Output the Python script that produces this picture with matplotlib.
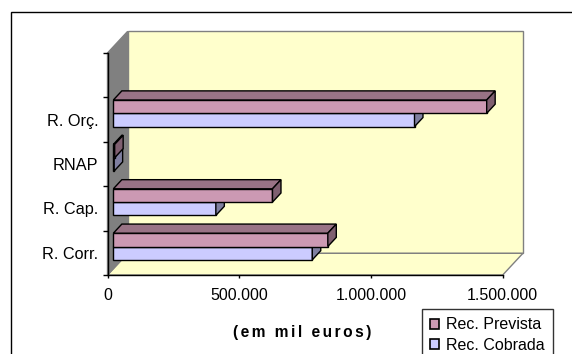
import numpy as np
import matplotlib.pyplot as plt
from matplotlib.patches import Polygon, Rectangle, Patch

plt.rcParams['font.family'] = ['Liberation Sans', 'DejaVu Sans']

categories = ['R. Corr.', 'R. Cap.', 'RNAP', 'R. Orç.']
rec_prevista = [814000, 604000, 5000, 1417000]
rec_cobrada = [755000, 389000, 3000, 1143000]
series_names = ['Rec. Prevista', 'Rec. Cobrada']
xticks = [0, 500000, 1000000, 1500000]
xtick_labels = ['0', '500.000', '1.000.000', '1.500.000']

# colours: front, top, side faces
prev_cols = ('#CC99B3', '#997386', '#7F5F70')
cobr_cols = ('#CCCCFF', '#9999C0', '#7F7FA0')
wall_col = '#808080'
back_col = '#FFFFCC'

W, H, DPI = 572, 354, 100
fig = plt.figure(figsize=(W / DPI, H / DPI), dpi=DPI)

# plot frame in pixels
L_px, R_px, T_px, B_px = 107.5, 502.7, 53.0, 275.0
ax = fig.add_axes([L_px / W, 1 - B_px / H, (R_px - L_px) / W, (B_px - T_px) / H])
xmax, nslots = 1500000, 5
ax.set_xlim(0, xmax)
ax.set_ylim(0, nslots)

# depth of the 3d box, in pixels (right, up)
DX, DY = 20.2, 21.7
ux = xmax / (R_px - L_px)
uy = nslots / (B_px - T_px)


def pt(x, y, f):
    return (x + f * DX * ux, y + f * DY * uy)


def face(verts, fc, ec, lw=1.0, z=1):
    ax.add_patch(Polygon(verts, closed=True, facecolor=fc, edgecolor=ec,
                         lw=lw, zorder=z, clip_on=False))


# walls and floor
face([pt(0, 0, 1), pt(xmax, 0, 1), pt(xmax, nslots, 1), pt(0, nslots, 1)],
     back_col, wall_col, z=0.5)
face([pt(0, 0, 0), pt(xmax, 0, 0), pt(xmax, 0, 1), pt(0, 0, 1)],
     back_col, wall_col, z=0.6)
face([pt(0, 0, 0), pt(0, nslots, 0), pt(0, nslots, 1), pt(0, 0, 1)],
     wall_col, wall_col, z=0.7)

# 3d bars
f0, f1 = 0.29, 0.71
bh = 0.3


def bar3d(v, y0, cols):
    front, top, side = cols
    face([pt(0, y0, f0), pt(v, y0, f0), pt(v, y0 + bh, f0), pt(0, y0 + bh, f0)],
         front, 'black', z=3)
    face([pt(0, y0 + bh, f0), pt(v, y0 + bh, f0), pt(v, y0 + bh, f1), pt(0, y0 + bh, f1)],
         top, 'black', z=3)
    face([pt(v, y0, f0), pt(v, y0, f1), pt(v, y0 + bh, f1), pt(v, y0 + bh, f0)],
         side, 'black', z=3)


for i in range(len(categories)):
    c = i + 0.5
    bar3d(rec_cobrada[i], c - bh, cobr_cols)
    bar3d(rec_prevista[i], c, prev_cols)

# axes styling
for s in ['top', 'right']:
    ax.spines[s].set_visible(False)
for s in ['left', 'bottom']:
    ax.spines[s].set_color('black')
    ax.spines[s].set_linewidth(1.0)
    ax.spines[s].set_zorder(2)
ax.patch.set_visible(False)

ax.set_yticks(np.arange(nslots + 1))
ax.set_yticklabels([])
ax.set_yticks(np.arange(len(categories)) + 0.5, minor=True)
ax.set_yticklabels(categories, minor=True, fontsize=11.7)
ax.tick_params(axis='y', which='major', length=3.3, width=1, direction='out')
ax.tick_params(axis='y', which='minor', length=0, pad=6.6)

ax.set_xticks(xticks)
ax.set_xticklabels(xtick_labels, fontsize=11.5)
ax.tick_params(axis='x', length=2.4, width=1, direction='out', pad=7)

# spaced-out bold axis title
fig.text(302.5 / W, 1 - 332 / H, '\u200a\u200a'.join('(em mil euros)'),
         fontsize=11.2, fontweight='bold', ha='center', va='center')

# outer chart border (runs past the figure edge)
fig.add_artist(Rectangle((11 / W, -0.2), 2, 1.2 - 12 / H, transform=fig.transFigure,
                         fill=False, edgecolor='black', lw=1.0))

handles = [Patch(facecolor=prev_cols[0], edgecolor='black', lw=1.2),
           Patch(facecolor=cobr_cols[0], edgecolor='black', lw=1.2)]
leg = fig.legend(handles, series_names, loc='upper left',
                 bbox_to_anchor=(421.7 / W, 1 - 309.3 / H), fontsize=11.5,
                 frameon=True, fancybox=False, shadow=False, borderaxespad=0,
                 handlelength=0.6, handleheight=0.6, handletextpad=0.45,
                 borderpad=0.5, labelspacing=0.35)
leg.get_frame().set_edgecolor('black')
leg.get_frame().set_linewidth(1.0)

fig.savefig('out.png', dpi=DPI)
